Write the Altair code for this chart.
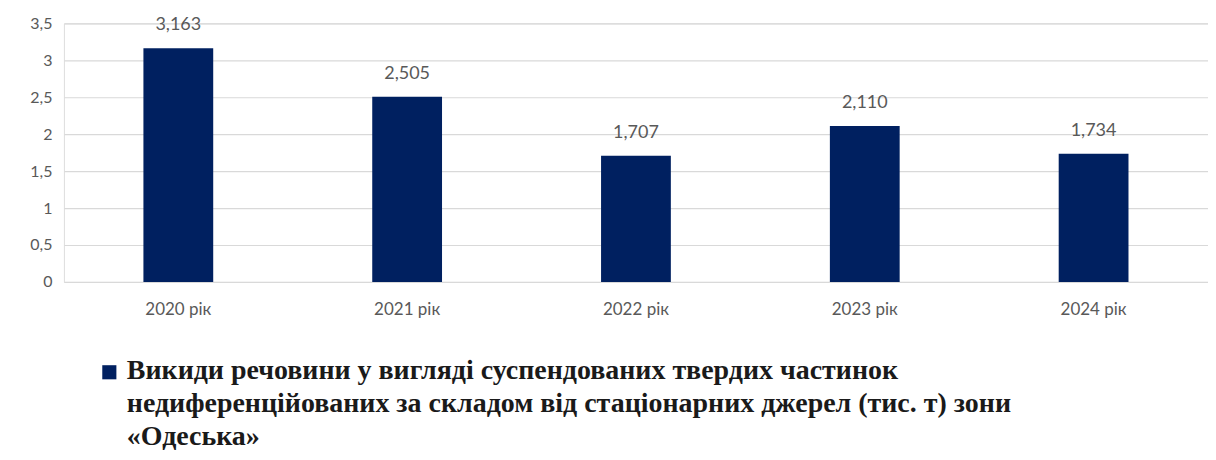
import altair as alt
import pandas as pd

years = ["2020 рік", "2021 рік", "2022 рік", "2023 рік", "2024 рік"]
values = [3.163, 2.505, 1.707, 2.110, 1.734]
series_name = "Викиди"
legend_lines = [
    "Викиди речовини у вигляді суспендованих твердих частинок",
    "недиференційованих  за складом від стаціонарних  джерел (тис. т) зони",
    "«Одеська»",
]
y_ticks = [0, 0.5, 1, 1.5, 2, 2.5, 3, 3.5]

df = pd.DataFrame({"year": years, "v": values, "s": [series_name] * len(years)})

BAR = "#002060"
GRAY = "#595959"

base = alt.Chart(df).encode(
    x=alt.X(
        "year:N",
        sort=years,
        title=None,
        scale=alt.Scale(paddingInner=0.695, paddingOuter=0.3475),
        axis=alt.Axis(
            labelAngle=0,
            labelFont="Lato",
            labelFontSize=17,
            labelColor=GRAY,
            labelPadding=20,
            ticks=False,
            domain=False,
            grid=False,
        ),
    ),
    y=alt.Y(
        "v:Q",
        title=None,
        scale=alt.Scale(domain=[0, 3.5], nice=False),
        axis=alt.Axis(
            values=y_ticks,
            format="~g",
            labelExpr="replace(datum.label, '.', ',')",
            labelFont="Lato",
            labelFontSize=16,
            labelColor=GRAY,
            labelPadding=12,
            ticks=False,
            domain=False,
            gridColor="#d9d9d9",
            gridWidth=1.2,
        ),
    ),
)

bars = base.mark_bar(color=BAR).encode(
    color=alt.Color(
        "s:N",
        scale=alt.Scale(range=[BAR]),
        legend=alt.Legend(
            orient="none",
            legendX=38,
            legendY=342,
            title=None,
            symbolType="square",
            symbolSize=200,
            symbolStrokeWidth=0,
            labelExpr="''",
            labelFontSize=1,
            padding=0,
        ),
    )
)

labels = base.mark_text(
    baseline="bottom", dy=-14, font="Lato", fontSize=18, color=GRAY
).transform_calculate(
    lbl="replace(format(datum.v, '.3f'), '.', ',')"
).encode(text="lbl:N")

chart = (
    alt.layer(bars, labels)
    .properties(
        width=1146,
        height=259,
        padding={"left": 56, "top": 15, "right": 0, "bottom": 178},
        autosize=alt.AutoSizeParams(type="none"),
        title=alt.TitleParams(
            text=legend_lines,
            orient="bottom",
            anchor="start",
            frame="group",
            dx=63,
            offset=28,
            dy=-51,
            font="Liberation Serif",
            fontSize=28,
            fontWeight="bold",
            color="#1a1a1a",
            lineHeight=33,
            baseline="top",
        ),
    )
    .configure_view(stroke=None)
    .configure(background="white")
)

chart.save("out.html", embed_options={"renderer": "svg", "actions": False})
